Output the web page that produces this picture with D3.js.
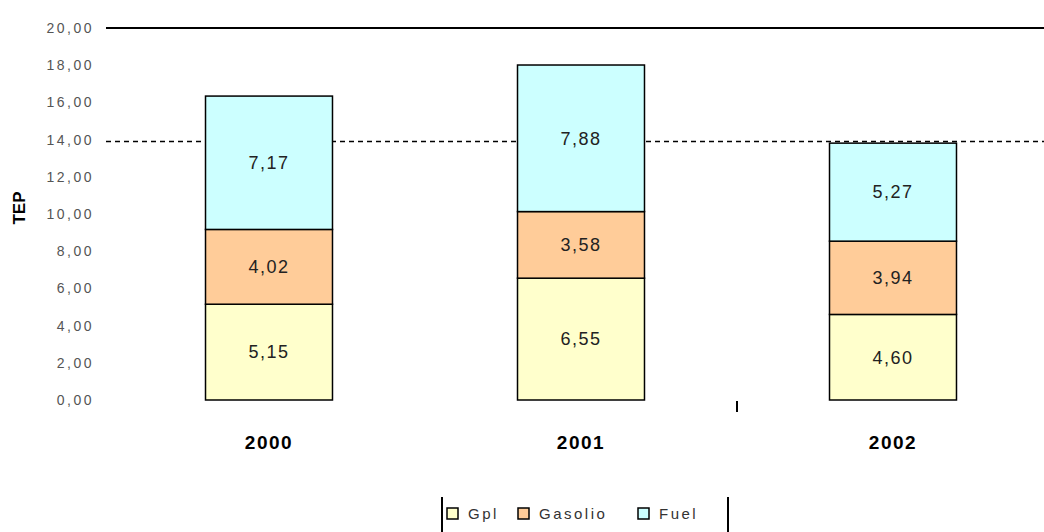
<!DOCTYPE html>
<html>
<head>
<meta charset="utf-8">
<script src="https://cdn.jsdelivr.net/npm/d3@7"></script>
<style>
  body { margin: 0; background: #fff; }
  svg { display: block; font-family: "Liberation Sans", Arial, sans-serif; }
</style>
</head>
<body>
<div id="chart"></div>
<script>
const WIDTH = 1044
const HEIGHT = 532

// dati
const years = ['2000', '2001', '2002']
const gpl = [5.15, 6.55, 4.60]
const gasolio = [4.02, 3.58, 3.94]
const fuel = [7.17, 7.88, 5.27]
const seriesNames = ['Gpl', 'Gasolio', 'Fuel']
const yTicks = [0, 2, 4, 6, 8, 10, 12, 14, 16, 18, 20]
const refLevel = 13.9

const colors = ['#FFFFCC', '#FFCC99', '#CCFFFF']

const fmt = v => v.toFixed(2).replace('.', ',')

const svg = d3.select('#chart').append('svg')
  .attr('width', WIDTH)
  .attr('height', HEIGHT)

const x = d3.scaleBand().domain(years).range([113, 1049]).padding(0)
const y = d3.scaleLinear().domain([0, 20]).range([400, 28])
const barW = x.bandwidth() * 0.407

// righe orizzontali
svg.append('line')
  .attr('x1', 106).attr('x2', WIDTH)
  .attr('y1', y(20)).attr('y2', y(20))
  .attr('stroke', '#000').attr('stroke-width', 2)

svg.append('line')
  .attr('x1', 106).attr('x2', WIDTH)
  .attr('y1', y(refLevel)).attr('y2', y(refLevel))
  .attr('stroke', '#000').attr('stroke-width', 1.5)
  .attr('stroke-dasharray', '5,4')

// etichette asse y
svg.append('g').selectAll('text')
  .data(yTicks)
  .enter().append('text')
  .attr('x', 94)
  .attr('y', d => y(d))
  .attr('dy', '0.35em')
  .attr('text-anchor', 'end')
  .attr('font-size', 14)
  .attr('letter-spacing', 2.5)
  .attr('fill', '#555')
  .text(d => fmt(d))

svg.append('text')
  .attr('transform', 'translate(25,208) rotate(-90)')
  .attr('text-anchor', 'middle')
  .attr('font-size', 17)
  .attr('font-weight', 'bold')
  .text('TEP')

// stack
const rows = years.map((yr, i) => ({ year: yr, Gpl: gpl[i], Gasolio: gasolio[i], Fuel: fuel[i] }))
const stacked = d3.stack().keys(seriesNames)(rows)

const layers = svg.append('g').selectAll('g')
  .data(stacked)
  .enter().append('g')
  .attr('fill', (d, i) => colors[i])

layers.selectAll('rect')
  .data(d => d)
  .enter().append('rect')
  .attr('x', d => x(d.data.year) + (x.bandwidth() - barW) / 2)
  .attr('y', d => y(d[1]))
  .attr('width', barW)
  .attr('height', d => y(d[0]) - y(d[1]))
  .attr('stroke', '#000')
  .attr('stroke-width', 1.5)

layers.selectAll('text')
  .data(d => d)
  .enter().append('text')
  .attr('x', d => x(d.data.year) + x.bandwidth() / 2)
  .attr('y', d => (y(d[0]) + y(d[1])) / 2)
  .attr('dy', '0.35em')
  .attr('text-anchor', 'middle')
  .attr('font-size', 18)
  .attr('letter-spacing', 1.5)
  .attr('fill', '#222')
  .text(d => fmt(d[1] - d[0]))

// etichette categorie
svg.append('g').selectAll('text')
  .data(years)
  .enter().append('text')
  .attr('x', d => x(d) + x.bandwidth() / 2)
  .attr('y', 442)
  .attr('dy', '0.35em')
  .attr('text-anchor', 'middle')
  .attr('font-size', 19)
  .attr('font-weight', 'bold')
  .attr('letter-spacing', 1.5)
  .text(d => d)

// tacca tra 2001 e 2002
svg.append('line')
  .attr('x1', x('2002')).attr('x2', x('2002'))
  .attr('y1', 401).attr('y2', 412)
  .attr('stroke', '#000').attr('stroke-width', 2)

// legenda
const legend = svg.append('g')
svg.append('line').attr('x1', 442).attr('x2', 442).attr('y1', 497).attr('y2', 532)
  .attr('stroke', '#000').attr('stroke-width', 2)
svg.append('line').attr('x1', 728).attr('x2', 728).attr('y1', 497).attr('y2', 532)
  .attr('stroke', '#000').attr('stroke-width', 2)

const legendX = [447, 518, 638]
const item = legend.selectAll('g')
  .data(seriesNames)
  .enter().append('g')
  .attr('transform', (d, i) => `translate(${legendX[i]},508)`)

item.append('rect')
  .attr('width', 11).attr('height', 11)
  .attr('fill', (d, i) => colors[i])
  .attr('stroke', '#000').attr('stroke-width', 1.5)

item.append('text')
  .attr('x', 21)
  .attr('y', 6)
  .attr('dy', '0.35em')
  .attr('font-size', 15)
  .attr('letter-spacing', 2.5)
  .attr('fill', '#333')
  .text(d => d)
</script>
</body>
</html>
